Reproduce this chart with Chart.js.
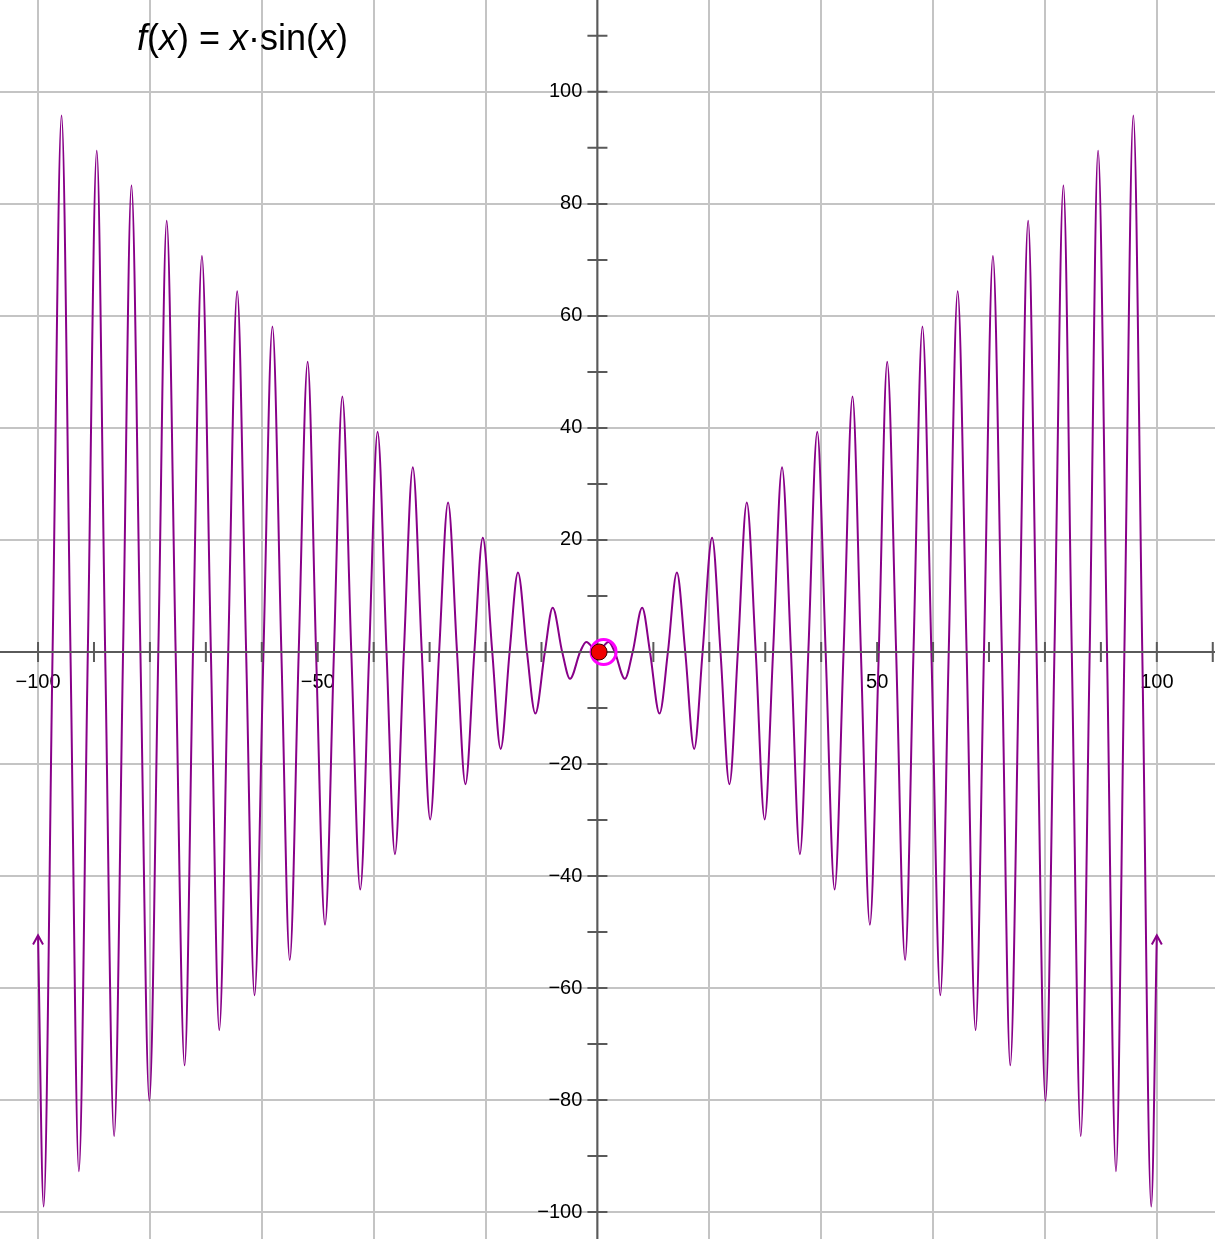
<!DOCTYPE html>
<html>
<head>
<meta charset="utf-8">
<script src="https://cdn.jsdelivr.net/npm/chart.js@4/dist/chart.umd.min.js"></script>
<style>
  html, body { margin: 0; padding: 0; background: #fff; }
  canvas { display: block; }
</style>
</head>
<body>
<canvas id="grafik" width="1215" height="1239"></canvas>
<script>
// titik-titik kurva untuk x >= 0 (nol, puncak, lembah) dibaca dari gambar
// kurvanya simetris, sisi kiri dicerminkan
const halfX = [0, 2.0, 3.1, 4.9, 6.3, 8.0, 9.4, 11.1, 12.6, 14.2, 15.7, 17.3, 18.8, 20.5, 22.0,
  23.6, 25.1, 26.7, 28.3, 29.9, 31.4, 33.0, 34.6, 36.2, 37.7, 39.3, 40.8, 42.4, 44.0,
  45.6, 47.1, 48.7, 50.3, 51.8, 53.4, 55.0, 56.5, 58.1, 59.7, 61.3, 62.8, 64.4, 66.0,
  67.6, 69.1, 70.7, 72.3, 73.8, 75.4, 77.0, 78.5, 80.1, 81.7, 83.3, 84.8, 86.4, 88.0,
  89.5, 91.1, 92.7, 94.2, 95.8, 97.4, 99.0, 100];
const halfY = [0, 1.8, 0, -4.8, 0, 7.9, 0, -11.0, 0, 14.2, 0, -17.3, 0, 20.4, 0,
  -23.6, 0, 26.7, 0, -29.9, 0, 33.0, 0, -36.1, 0, 39.3, 0, -42.4, 0,
  45.6, 0, -48.7, 0, 51.8, 0, -55.0, 0, 58.1, 0, -61.3, 0, 64.4, 0,
  -67.5, 0, 70.7, 0, -73.8, 0, 77.0, 0, -80.1, 0, 83.3, 0, -86.4, 0,
  89.5, 0, -92.7, 0, 95.8, 0, -99.0, -50.6];

const titikMerah = [{ x: 0.3, y: 0 }];
const cincinMagenta = [{ x: 1.1, y: 0 }];

const xLabel = [-100, -50, 50, 100];
const yLabel = [-100, -80, -60, -40, -20, 20, 40, 60, 80, 100];

const warnaKurva = "#880088";
const warnaSumbu = "#5a5a5a";
const warnaGrid = "#c4c4c4";

// gabung sisi kiri + kanan
const kurva = [];
for (let i = halfX.length - 1; i > 0; i--) kurva.push({ x: -halfX[i], y: halfY[i] });
for (let i = 0; i < halfX.length; i++) kurva.push({ x: halfX[i], y: halfY[i] });

function minus(v) {
  return v < 0 ? "\u2212" + Math.abs(v) : String(v);
}

function nolkanUkuran(s) {
  if (s.isHorizontal()) s.height = 0; else s.width = 0;
  s.paddingTop = s.paddingBottom = s.paddingLeft = s.paddingRight = 0;
}

function hanyaKelipatan10(s) {
  s.ticks = s.ticks.filter(t => Math.abs(t.value % 10) < 1e-6);
}

function warnaGaris(c) {
  return c.tick && Math.abs(c.tick.value % 20) < 1e-6 ? warnaGrid : "rgba(0,0,0,0)";
}

// sumbu + tanda tick digambar di atas kurva, tapi di bawah titik
const sumbuPlugin = {
  id: "sumbu",
  afterDatasetDraw(chart, args) {
    if (args.index !== 0) return;
    const { ctx, chartArea } = chart;
    const sx = chart.scales.x, sy = chart.scales.y;
    const x0 = sx.getPixelForValue(0), y0 = sy.getPixelForValue(0);
    ctx.save();
    ctx.strokeStyle = warnaSumbu;
    ctx.lineWidth = 2;
    ctx.beginPath();
    ctx.moveTo(chartArea.left, y0); ctx.lineTo(chartArea.right, y0);
    ctx.moveTo(x0, chartArea.top); ctx.lineTo(x0, chartArea.bottom);
    sx.ticks.forEach(t => {
      if (t.value === 0) return;
      const p = sx.getPixelForValue(t.value);
      ctx.moveTo(p, y0 - 10); ctx.lineTo(p, y0 + 10);
    });
    sy.ticks.forEach(t => {
      if (t.value === 0) return;
      const p = sy.getPixelForValue(t.value);
      ctx.moveTo(x0 - 10, p); ctx.lineTo(x0 + 10, p);
    });
    ctx.stroke();

    // panah kecil di kedua ujung kurva
    const data = chart.getDatasetMeta(0).data;
    [data[0], data[data.length - 1]].forEach(pt => {
      ctx.strokeStyle = warnaKurva;
      ctx.lineWidth = 2;
      ctx.beginPath();
      ctx.moveTo(pt.x - 5, pt.y + 9);
      ctx.lineTo(pt.x, pt.y);
      ctx.lineTo(pt.x + 5, pt.y + 9);
      ctx.stroke();
    });
    ctx.restore();
  }
};

const judulPlugin = {
  id: "judul",
  afterDraw(chart) {
    const ctx = chart.ctx;
    const bagian = [["f", true], ["(", false], ["x", true], [") = ", false], ["x", true],
      ["\u00b7sin(", false], ["x", true], [")", false]];
    let x = 137;
    ctx.save();
    ctx.fillStyle = "#000";
    ctx.textBaseline = "alphabetic";
    bagian.forEach(([teks, miring]) => {
      ctx.font = (miring ? "italic " : "") + "36px 'Liberation Sans', Arial, sans-serif";
      ctx.fillText(teks, x, 50);
      x += ctx.measureText(teks).width;
    });
    ctx.restore();
  }
};

const ctx = document.getElementById("grafik").getContext("2d");
new Chart(ctx, {
  type: "scatter",
  data: {
    datasets: [
      {
        data: kurva,
        showLine: true,
        borderColor: warnaKurva,
        borderWidth: 2,
        pointRadius: 0,
        cubicInterpolationMode: "monotone",
        order: 2
      },
      {
        data: cincinMagenta,
        pointRadius: 12.5,
        backgroundColor: "rgba(0,0,0,0)",
        borderColor: "#ff00ff",
        borderWidth: 3,
        order: 1
      },
      {
        data: titikMerah,
        pointRadius: 8,
        backgroundColor: "#f00000",
        borderColor: "#3a0000",
        borderWidth: 1,
        order: 0
      }
    ]
  },
  options: {
    responsive: false,
    animation: false,
    layout: { padding: 0, autoPadding: false },
    plugins: {
      legend: { display: false },
      tooltip: { enabled: false }
    },
    scales: {
      x: {
        type: "linear",
        position: { y: 0 },
        min: -106.8,
        max: 110.4,
        afterBuildTicks: hanyaKelipatan10,
        afterFit: nolkanUkuran,
        border: { display: false },
        grid: {
          color: warnaGaris,
          lineWidth: 2,
          drawTicks: true,
          tickLength: 10,
          tickColor: "rgba(0,0,0,0)"
        },
        ticks: {
          stepSize: 10,
          includeBounds: false,
          autoSkip: false,
          maxRotation: 0,
          padding: 8,
          color: "#000",
          font: { family: "'Liberation Sans', Arial, sans-serif", size: 20 },
          callback: v => (xLabel.includes(v) ? minus(v) : "")
        }
      },
      y: {
        type: "linear",
        // label sumbu y diletakkan sedikit di kiri garis sumbu (garisnya digambar plugin di x = 0)
        position: { x: -2.7 },
        min: -104.8,
        max: 116.4,
        afterBuildTicks: hanyaKelipatan10,
        afterFit: nolkanUkuran,
        border: { display: false },
        grid: {
          color: warnaGaris,
          lineWidth: 2,
          drawTicks: false
        },
        ticks: {
          stepSize: 10,
          includeBounds: false,
          autoSkip: false,
          color: "#000",
          font: { family: "'Liberation Sans', Arial, sans-serif", size: 20 },
          callback: v => (yLabel.includes(v) ? minus(v) : "")
        }
      }
    }
  },
  plugins: [sumbuPlugin, judulPlugin]
});
</script>
</body>
</html>
